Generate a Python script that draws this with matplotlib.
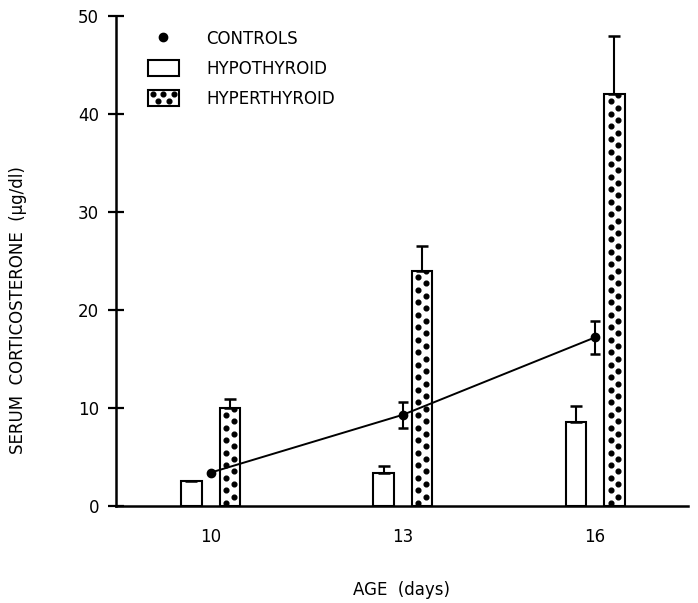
import numpy as np
import matplotlib
matplotlib.use("Agg")
import matplotlib.pyplot as plt
from matplotlib.patches import Rectangle
from matplotlib.lines import Line2D
from matplotlib.legend_handler import HandlerBase

# values (None = no error bar drawn)
days = [10, 13, 16]
controls = [3.4, 9.3, 17.2]
controls_err = [None, 1.3, 1.65]
hypo = [2.5, 3.4, 8.6]
hypo_err = [None, 0.7, 1.6]
hyper = [10.0, 24.0, 42.0]
hyper_err = [0.9, 2.5, 6.0]

plt.rcParams['font.family'] = ['DejaVu Sans']


def as_err(vals):
    return np.array([np.nan if v is None else v for v in vals], dtype=float)


fig = plt.figure(figsize=(6.98, 6.03), dpi=100)
ax = fig.add_axes([0.166, 0.161, 0.8197, 0.8126])

x = np.array(days, dtype=float)
w = 0.32
off = 0.3

# hypothyroid bars (open)
ax.bar(x - off, hypo, width=w, color='white', edgecolor='black', linewidth=1.5, zorder=2)
ax.errorbar(x - off, hypo, yerr=[np.zeros(3), as_err(hypo_err)], fmt='none', ecolor='black',
            elinewidth=1.5, capsize=4, capthick=1.8, zorder=3)

# hyperthyroid bars (dotted fill)
bars = ax.bar(x + off, hyper, width=w, color='white', edgecolor='black', linewidth=1.5, zorder=2)
ax.errorbar(x + off, hyper, yerr=[np.zeros(3), as_err(hyper_err)], fmt='none', ecolor='black',
            elinewidth=1.5, capsize=4, capthick=1.8, zorder=3)

step = 0.64
for b in bars:
    x0, bw, h = b.get_x(), b.get_width(), b.get_height()
    k = np.arange(int(h / step) + 1)
    ys = step * 0.5 + k * step
    xs = np.where(k % 2 == 0, x0 + bw * 0.32, x0 + bw * 0.68)
    dots, = ax.plot(xs, ys, ls='none', marker='o', ms=3.4, color='black', zorder=2.5)
    dots.set_clip_path(b)

# controls
ax.plot(x, controls, color='black', lw=1.4, zorder=4)
ax.errorbar(x, controls, yerr=as_err(controls_err), fmt='o', color='black', ms=6,
            elinewidth=1.5, capsize=3.8, capthick=1.8, zorder=5)

ax.set_xlim(8.52, 17.45)
ax.set_ylim(0, 50)
ax.spines['top'].set_visible(False)
ax.spines['right'].set_visible(False)
ax.spines['left'].set_linewidth(1.8)
ax.spines['bottom'].set_linewidth(1.8)

ax.set_yticks([0, 10, 20, 30, 40, 50])
ax.tick_params(axis='y', direction='inout', length=12, width=1.6, pad=6, labelsize=12)
ax.set_xticks(days)
ax.set_xticklabels(['10', '13', '16'])
ax.tick_params(axis='x', length=0, pad=16, labelsize=12)

ax.set_xlabel('AGE  (days)', fontsize=12, labelpad=25)
ax.set_ylabel('SERUM  CORTICOSTERONE  (\u03bcg/dl)', fontsize=12)
ax.yaxis.set_label_coords(-0.156, 0.40)


class DottedBoxHandler(HandlerBase):
    def create_artists(self, legend, orig_handle, xdescent, ydescent, width, height, fontsize, trans):
        rect = Rectangle((-xdescent, -ydescent), width, height, facecolor='white',
                         edgecolor='black', linewidth=1.5, transform=trans)
        px = -xdescent + width * np.array([0.15, 0.5, 0.85, 0.32, 0.68])
        py = -ydescent + height * np.array([0.72, 0.72, 0.72, 0.28, 0.28])
        d = Line2D(px, py, ls='none', marker='o', ms=3.4, color='black', transform=trans)
        return [rect, d]


h_ctrl = Line2D([], [], ls='none', marker='o', ms=6, color='black')
h_hypo = Rectangle((0, 0), 1, 1, facecolor='white', edgecolor='black', linewidth=1.5)
h_hyper = Rectangle((0, 0), 1, 1)
ax.legend([h_ctrl, h_hypo, h_hyper], ['CONTROLS', 'HYPOTHYROID', 'HYPERTHYROID'],
          handler_map={h_hyper: DottedBoxHandler()},
          loc='upper left', bbox_to_anchor=(0.056, 0.972), frameon=False,
          fontsize=12, borderpad=0, borderaxespad=0, handlelength=1.85,
          handleheight=1.1, handletextpad=1.65, labelspacing=0.72)

fig.savefig('out.png', dpi=100)
